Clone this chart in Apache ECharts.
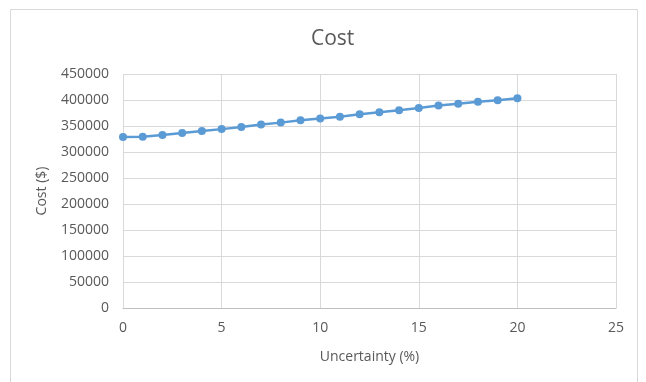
<!DOCTYPE html>
<html>
<head>
<meta charset="utf-8">
<script src="https://cdn.jsdelivr.net/npm/echarts@6/dist/echarts.min.js"></script>
<style>
  html, body { margin: 0; padding: 0; background: #ffffff; }
  #chart { width: 646px; height: 382px; }
</style>
</head>
<body>
<div id="chart"></div>
<script>
// Uncertainty levels (%) and the resulting total cost ($)
const uncertainty = [0, 1, 2, 3, 4, 5, 6, 7, 8, 9, 10, 11, 12, 13, 14, 15, 16, 17, 18, 19, 20];
const cost = [329000, 329500, 332500, 336500, 340500, 344000, 348000, 353000, 356500, 361000,
              364500, 368000, 372500, 376500, 380500, 384500, 389500, 393000, 396500, 399500, 403500];

const titleText = 'Cost';
const xName = 'Uncertainty (%)';
const yName = 'Cost ($)';

const textColor = '#595959';
const gridColor = '#d9d9d9';
const lineColor = '#5b9bd5';
const fontFamily = '"Open Sans", "Liberation Sans", sans-serif';

const chart = echarts.init(document.getElementById('chart'), null, { renderer: 'canvas' });

chart.setOption({
  animation: false,
  backgroundColor: '#ffffff',
  textStyle: { fontFamily: fontFamily, color: textColor },
  graphic: [{
    type: 'rect',
    shape: { x: 10.5, y: 9.5, width: 627, height: 380 },
    style: { fill: 'none', stroke: gridColor, lineWidth: 1 },
    silent: true,
    z: -1
  }],
  title: {
    text: titleText,
    left: 306,
    top: 24,
    textStyle: { fontFamily: fontFamily, fontSize: 21, fontWeight: 'normal', color: textColor }
  },
  grid: { left: 123, right: 30, top: 74, bottom: 74 },
  xAxis: {
    type: 'value',
    min: 0,
    max: 25,
    interval: 5,
    name: xName,
    nameLocation: 'middle',
    nameGap: 42,
    nameTextStyle: { fontSize: 14, color: textColor, fontFamily: fontFamily },
    axisLine: { show: true, lineStyle: { color: '#bfbfbf', width: 1 } },
    axisTick: { show: false },
    axisLabel: { margin: 13, fontSize: 14, color: textColor, fontFamily: fontFamily,
                 formatter: v => String(v) },
    splitLine: { show: true, lineStyle: { color: gridColor, width: 1 } }
  },
  yAxis: {
    type: 'value',
    min: 0,
    max: 450000,
    interval: 50000,
    name: yName,
    nameLocation: 'middle',
    nameRotate: 90,
    nameGap: 74,
    nameTextStyle: { fontSize: 14, color: textColor, fontFamily: fontFamily },
    axisLine: { show: false },
    axisTick: { show: false },
    axisLabel: { margin: 14, fontSize: 14, color: textColor, fontFamily: fontFamily,
                 formatter: v => String(v) },
    splitLine: { show: true, lineStyle: { color: gridColor, width: 1 } }
  },
  series: [{
    type: 'line',
    data: uncertainty.map((u, i) => [u, cost[i]]),
    symbol: 'circle',
    symbolSize: 8,
    showSymbol: true,
    lineStyle: { color: lineColor, width: 2.5 },
    itemStyle: { color: lineColor },
    z: 3
  }]
});
</script>
</body>
</html>
